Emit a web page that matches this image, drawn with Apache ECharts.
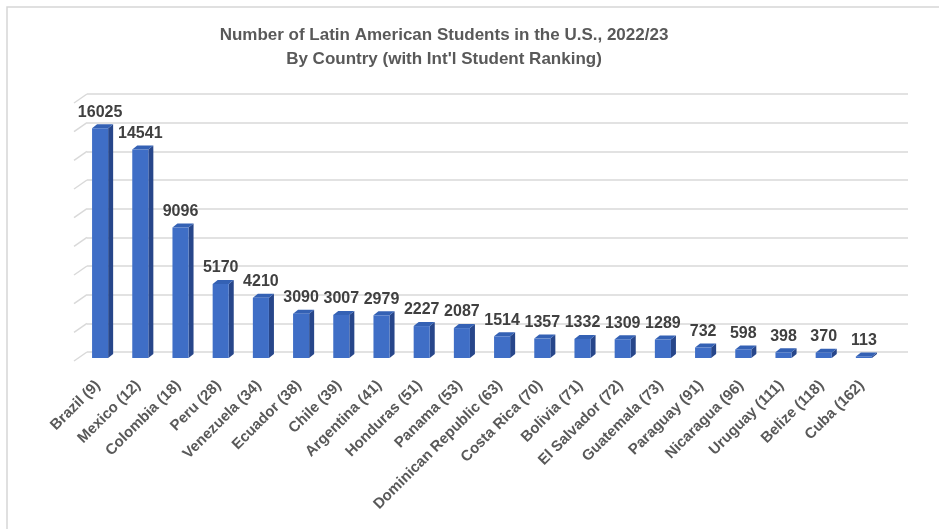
<!DOCTYPE html>
<html>
<head>
<meta charset="utf-8">
<script src="https://cdn.jsdelivr.net/npm/echarts@6/dist/echarts.min.js"></script>
<style>html,body{margin:0;padding:0;background:#fff}#c{width:939px;height:529px}</style>
</head>
<body>
<div id="c"></div>
<script>
const countries = ['Brazil (9)','Mexico (12)','Colombia (18)','Peru (28)','Venezuela (34)','Ecuador (38)','Chile (39)','Argentina (41)','Honduras (51)','Panama (53)','Dominican Republic (63)','Costa Rica (70)','Bolivia (71)','El Salvador (72)','Guatemala (73)','Paraguay (91)','Nicaragua (96)','Uruguay (111)','Belize (118)','Cuba (162)'];
const students = [16025,14541,9096,5170,4210,3090,3007,2979,2227,2087,1514,1357,1332,1309,1289,732,598,398,370,113];
const yTicks = [0,2000,4000,6000,8000,10000,12000,14000,16000,18000];
const titleLines = ['Number of Latin American Students in the U.S., 2022/23','By Country (with Int\'l Student Ranking)'];

const FRONT = '#3f6ec6', SIDE = '#27468a', TOP = '#3461b4';
const DX = 5, DY = 4;
const FONT = '"Liberation Sans", Arial, sans-serif';

const chart = echarts.init(document.getElementById('c'), null, {renderer:'canvas'});
chart.setOption({
  animation: false,
  backgroundColor: '#fff',
  graphic: [
    {type:'rect', shape:{x:7, y:7, width:1000, height:1000}, style:{fill:'none', stroke:'#d6d6d6', lineWidth:1.5}, z:-10},
    {type:'text', x:444, y:23, style:{text:titleLines.join('\n'), align:'center', verticalAlign:'top', font:'bold 17px ' + FONT, fill:'#595959', lineHeight:24}}
  ],
  grid: [
    {left:80, right:55, top:100, bottom:171},
    {left:87, right:31, top:94, bottom:177}
  ],
  xAxis: [
    {type:'category', gridIndex:0, data:countries, axisLine:{show:false}, axisTick:{show:false},
     axisLabel:{interval:0, rotate:45, margin:23, padding:[0,3,0,0], color:'#595959', fontFamily:FONT, fontWeight:'bold', fontSize:15}},
    {type:'value', gridIndex:1, min:0, max:1, show:false}
  ],
  yAxis: [
    {type:'value', gridIndex:0, min:0, max:18000, interval:2000, show:false, splitLine:{show:false}},
    {type:'value', gridIndex:1, min:0, max:18000, interval:2000, axisLabel:{show:false}, axisLine:{show:false}, axisTick:{show:false},
     splitLine:{show:true, lineStyle:{color:'#d9d9d9', width:1.5}}}
  ],
  series: [
    {
      type:'custom', xAxisIndex:1, yAxisIndex:1, silent:true, z:1,
      data: yTicks.map(v => [0, v]),
      renderItem: function(params, api){
        const p = api.coord([0, api.value(1)]);
        return {type:'line', shape:{x1:p[0], y1:p[1], x2:p[0]-13, y2:p[1]+9}, style:{stroke:'#d9d9d9', lineWidth:1.5}};
      }
    },
    {
      type:'custom', xAxisIndex:0, yAxisIndex:0, z:5,
      data: students.map((v,i) => [i, v]),
      encode:{x:0, y:1},
      renderItem: function(params, api){
        const i = api.value(0), v = api.value(1);
        const base = api.coord([i, 0]);
        const top = api.coord([i, v]);
        const w = api.size([1, 0])[0] * 0.4;
        const x0 = base[0] - w/2, x1 = base[0] + w/2;
        const yb = base[1], yt = top[1];
        return {type:'group', children:[
          {type:'polygon', shape:{points:[[x1,yt],[x1+DX,yt-DY],[x1+DX,yb-DY],[x1,yb]]}, style:{fill:SIDE}},
          {type:'polygon', shape:{points:[[x0,yt],[x1,yt],[x1+DX,yt-DY],[x0+DX,yt-DY]]}, style:{fill:TOP}},
          {type:'rect', shape:{x:x0, y:yt, width:w, height:yb-yt}, style:{fill:FRONT},
           textContent:{style:{text:String(v), font:'bold 16px ' + FONT, fill:'#404040'}},
           textConfig:{position:'top', distance:8}}
        ]};
      }
    }
  ]
});
</script>
</body>
</html>
